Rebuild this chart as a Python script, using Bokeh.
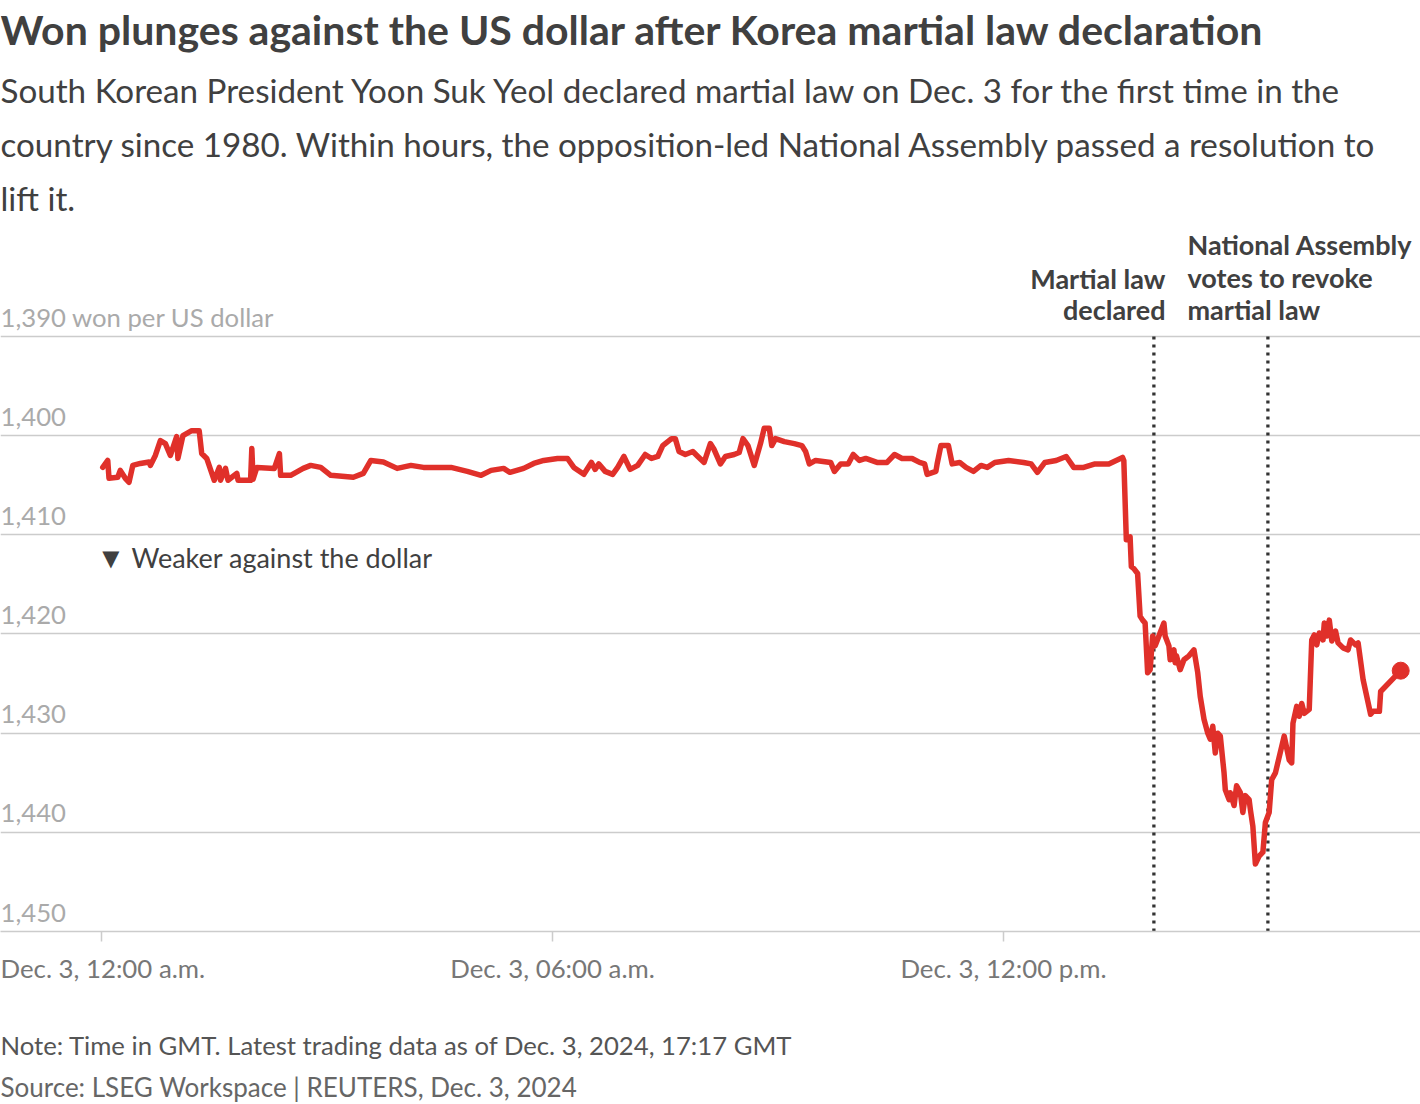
from bokeh.plotting import figure
from bokeh.models import Range1d, FixedTicker, Label
from bokeh.layouts import column
from bokeh.embed import file_html
from bokeh.resources import INLINE

# ---- data: minutes after Dec. 3 00:00 GMT, won per US dollar ----
minutes = [1, 5, 6, 13, 15, 19, 22, 25, 31, 38, 39, 43, 47, 51, 55, 60, 61, 65, 72, 78,
           80, 84, 90, 94, 95, 99, 101, 108, 109, 119, 120, 121, 124, 138, 142, 143, 151,
           161, 167, 175, 183, 201, 209, 215, 225, 236, 247, 257, 279, 292, 303, 311, 321,
           326, 337, 345, 353, 364, 372, 377, 385, 391, 394, 397, 402, 408, 412, 417, 422,
           428, 434, 439, 444, 448, 455, 458, 461, 466, 472, 476, 481, 486, 489, 494, 498,
           505, 509, 512, 516, 521, 526, 529, 533, 535, 538, 545, 553, 559, 562, 565, 570,
           582, 585, 590, 596, 600, 605, 610, 619, 627, 633, 639, 647, 653, 657, 659, 666,
           667, 670, 676, 679, 685, 690, 696, 702, 707, 713, 724, 736, 742, 747, 753, 762,
           770, 776, 784, 793, 804, 815, 816, 818, 821, 822, 824, 827, 829, 831, 833, 835,
           837, 839, 841, 844, 848, 849, 852, 853, 856, 857, 858, 861, 864, 868, 872, 875,
           877, 880, 883, 885, 887, 889, 891, 893, 896, 897, 900, 901, 904, 906, 909, 911,
           913, 916, 917, 919, 921, 924, 927, 929, 932, 934, 937, 944, 948, 950, 951, 954,
           956, 958, 960, 964, 966, 968, 970, 972, 975, 976, 978, 980, 982, 985, 987, 991,
           995, 997, 1001, 1003, 1007, 1013, 1015, 1020, 1021, 1037]
rate = [1403.2, 1402.5, 1404.3, 1404.2, 1403.5, 1404.3, 1404.7, 1403.0, 1402.8, 1402.65,
        1403.0, 1402.0, 1400.5, 1400.8, 1402.0, 1400.1, 1402.3, 1400.0, 1399.5, 1399.5,
        1401.8, 1402.3, 1404.5, 1403.2, 1404.5, 1403.3, 1404.5, 1403.8, 1404.5, 1404.5,
        1401.3, 1404.4, 1403.2, 1403.3, 1401.8, 1404.0, 1404.0, 1403.3, 1403.0, 1403.2,
        1404.0, 1404.2, 1403.8, 1402.5, 1402.65, 1403.3, 1403.0, 1403.2, 1403.2, 1403.6,
        1404.0, 1403.5, 1403.3, 1403.7, 1403.3, 1402.8, 1402.5, 1402.3, 1402.3, 1403.2,
        1403.9, 1402.7, 1403.4, 1402.85, 1403.6, 1403.9, 1403.2, 1402.1, 1403.4, 1403.0,
        1401.9, 1402.3, 1402.1, 1401.0, 1400.3, 1400.3, 1401.6, 1401.9, 1401.6, 1402.1,
        1402.7, 1400.8, 1401.4, 1402.85, 1402.1, 1401.9, 1401.7, 1400.3, 1401.0, 1403.0,
        1400.8, 1399.25, 1399.25, 1401.0, 1400.3, 1400.6, 1400.8, 1401.0, 1401.6, 1402.85,
        1402.5, 1402.7, 1403.6, 1402.85, 1402.85, 1401.9, 1402.5, 1402.3, 1402.7, 1402.7,
        1401.9, 1402.3, 1402.3, 1402.7, 1402.85, 1403.9, 1403.6, 1402.85, 1401.0, 1401.0,
        1402.85, 1402.7, 1403.2, 1403.6, 1403.0, 1403.2, 1402.7, 1402.5, 1402.7, 1402.85,
        1403.7, 1402.7, 1402.5, 1402.1, 1403.2, 1403.2, 1402.85, 1402.85, 1402.2, 1402.5,
        1410.5, 1410.2, 1413.2, 1413.4, 1413.9, 1418.2, 1418.6, 1418.9, 1423.9, 1423.6,
        1420.2, 1421.2, 1420.2, 1418.9, 1420.2, 1421.2, 1422.6, 1421.6, 1422.9, 1422.2,
        1423.6, 1422.6, 1422.2, 1421.6, 1423.9, 1426.3, 1428.6, 1430.0, 1430.6, 1429.3,
        1432.0, 1430.0, 1430.3, 1434.0, 1435.7, 1436.7, 1436.0, 1437.3, 1435.3, 1436.0,
        1438.0, 1436.3, 1436.7, 1437.7, 1439.4, 1443.2, 1442.4, 1442.0, 1439.0, 1438.0,
        1434.7, 1434.0, 1430.3, 1432.7, 1433.0, 1429.0, 1427.3, 1428.3, 1427.0, 1428.0,
        1427.6, 1420.6, 1420.1, 1421.1, 1419.9, 1420.6, 1418.9, 1420.2, 1418.6, 1420.7,
        1419.7, 1420.9, 1421.4, 1421.6, 1420.6, 1421.1, 1420.9, 1424.6, 1428.1, 1427.8,
        1427.8, 1425.8, 1423.7]

event_minutes = [840, 931]
event_labels = [["Martial law", "declared"], ["National Assembly", "votes to revoke", "martial law"]]

y_ticks = [1390, 1400, 1410, 1420, 1430, 1440, 1450]
y_tick_labels = ["1,390 won per US dollar", "1,400", "1,410", "1,420", "1,430", "1,440", "1,450"]
x_ticks = [0, 360, 720]
x_tick_labels = ["Dec. 3, 12:00 a.m.", "Dec. 3, 06:00 a.m.", "Dec. 3, 12:00 p.m."]

title = "Won plunges against the US dollar after Korea martial law declaration"
subtitle = ["South Korean President Yoon Suk Yeol declared martial law on Dec. 3 for the first time in the",
            "country since 1980. Within hours, the opposition-led National Assembly passed a resolution to",
            "lift it."]
direction_mark = "\u25BC"
direction_note = "Weaker against the dollar"
note = "Note: Time in GMT. Latest trading data as of Dec. 3, 2024, 17:17 GMT"
source = "Source: LSEG Workspace | REUTERS, Dec. 3, 2024"

# ---- style ----
RED = "#e0302a"
DARK = "#404040"
FONT = "Lato"
W = 1420
H1, H2 = 1000, 102
FB = 931                       # canvas y of the plot-frame bottom (the 1,450 line)

p = figure(width=W, height=H1, output_backend="svg", toolbar_location=None,
           x_range=Range1d(-80.6, 1052.8), y_range=Range1d(1450, 1356.12),
           min_border_left=0, min_border_right=0, min_border_top=0,
           min_border_bottom=H1 - FB, y_axis_location=None)
p.outline_line_color = None
p.background_fill_color = "white"
p.border_fill_color = "white"
p.xgrid.visible = False
p.ygrid.ticker = FixedTicker(ticks=y_ticks)
p.ygrid.grid_line_color = "#cccccc"
p.ygrid.grid_line_width = 1.5

ax = p.xaxis[0]
ax.ticker = FixedTicker(ticks=x_ticks)
ax.major_label_overrides = {t: l for t, l in zip(x_ticks, x_tick_labels)}
ax.axis_line_color = "#cccccc"
ax.axis_line_width = 1.5
ax.major_tick_line_color = "#cccccc"
ax.major_tick_line_width = 1.5
ax.major_tick_out = 10
ax.major_tick_in = 0
ax.minor_tick_out = 0
ax.minor_tick_in = 0
ax.major_label_standoff = 11
ax.major_label_text_font = FONT
ax.major_label_text_font_size = "25.8px"
ax.major_label_text_color = "#777777"

# event lines
p.segment(x0=event_minutes, x1=event_minutes, y0=[y_ticks[0]] * 2, y1=[y_ticks[-1]] * 2,
          line_color="#333333", line_width=3.3, line_dash="3 5")

# data line
p.line(minutes, rate, line_color=RED, line_width=5.5, line_join="round", line_cap="round")
p.scatter([minutes[-1]], [rate[-1]], size=17, fill_color=RED, line_color=RED)

# y tick labels (inside plot, above gridlines)
for t, lab in zip(y_ticks, y_tick_labels):
    p.add_layout(Label(x=0, x_units="screen", y=t, y_offset=19, text=lab,
                       text_font=FONT, text_font_size="25.7px", text_color="#aaaaaa",
                       text_baseline="middle", text_align="left"))


def lab(fig, bottom, text, px, py, size, bold=False, color=DARK, align="left"):
    """px, py: canvas position (py = vertical middle of the text)."""
    fig.add_layout(Label(x=px, y=bottom - py, x_units="screen", y_units="screen", text=text,
                         text_font=FONT, text_font_size=size,
                         text_font_style="bold" if bold else "normal",
                         text_color=color, text_align=align, text_baseline="middle"))


lab(p, FB, title, 0, 29, "41px", bold=True)
for i, line in enumerate(subtitle):
    lab(p, FB, line, 0, 89 + 54 * i, "33.2px")

for i, line in enumerate(event_labels[0]):
    lab(p, FB, line, 1165, 278 + 31 * i, "27px", bold=True, align="right")
for i, line in enumerate(event_labels[1]):
    lab(p, FB, line, 1187, 244 + 32.5 * i, "27px", bold=True)

lab(p, FB, direction_mark, 96, 556, "29px")
lab(p, FB, direction_note, 131, 557, "27px")

# footer figure
q = figure(width=W, height=H2, output_backend="svg", toolbar_location=None,
           x_range=Range1d(0, W), y_range=Range1d(0, H2),
           min_border_left=0, min_border_right=0, min_border_top=0, min_border_bottom=0,
           x_axis_location=None, y_axis_location=None)
q.outline_line_color = None
q.grid.visible = False
q.background_fill_color = "white"
q.border_fill_color = "white"
lab(q, H1 + H2, note, 0, 1044, "25.7px", color="#555555")
lab(q, H1 + H2, source, 0, 1086, "26px", color="#666666")

layout = column(p, q, spacing=0)
open("out.html", "w").write(file_html(layout, INLINE))
